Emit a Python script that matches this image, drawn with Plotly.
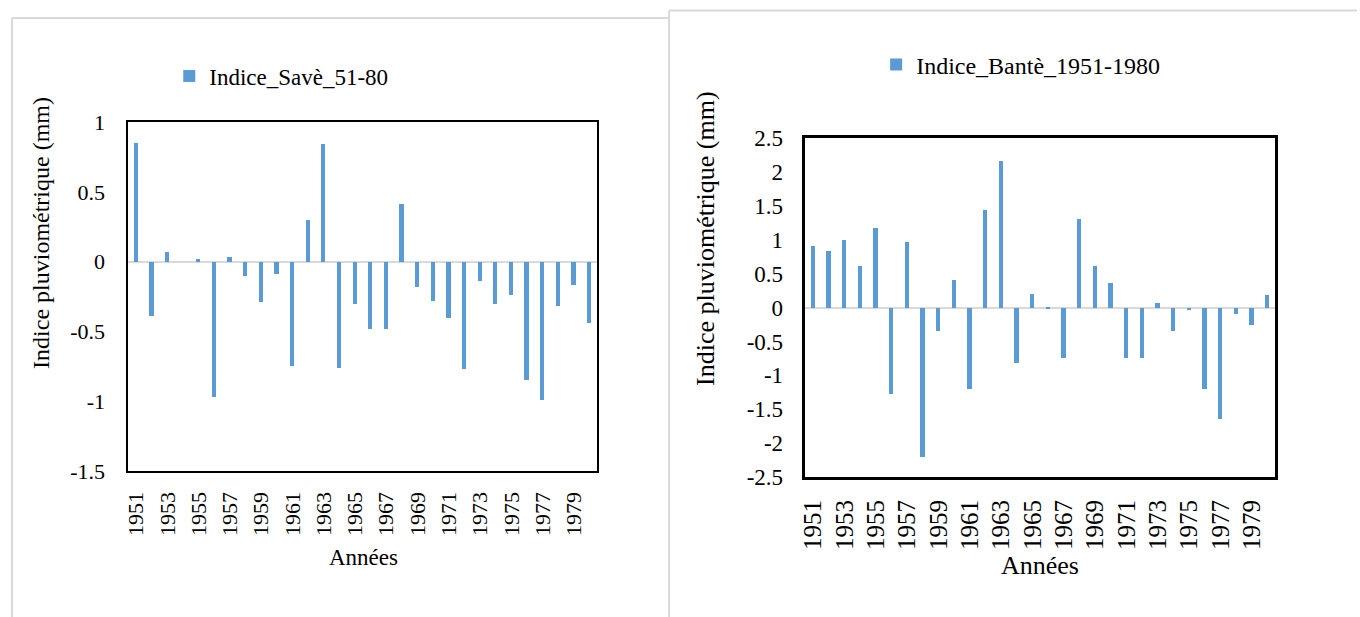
import plotly.graph_objects as go

# Years 1951-1980
years = list(range(1951, 1981))

# Rainfall index, Savè station (reference period 51-80)
indice_save = [0.85, -0.39, 0.07, 0.0, 0.02, -0.97, 0.03, -0.10, -0.29, -0.09,
               -0.75, 0.30, 0.84, -0.76, -0.30, -0.48, -0.48, 0.41, -0.18, -0.28,
               -0.40, -0.77, -0.14, -0.30, -0.24, -0.85, -0.99, -0.32, -0.17, -0.44]

# Rainfall index, Bantè station (1951-1980)
indice_bante = [0.91, 0.84, 1.00, 0.62, 1.18, -1.28, 0.96, -2.21, -0.35, 0.41,
                -1.20, 1.44, 2.16, -0.82, 0.20, -0.02, -0.75, 1.30, 0.62, 0.36,
                -0.75, -0.74, 0.07, -0.35, -0.04, -1.20, -1.65, -0.09, -0.26, 0.19]

year_ticks = list(range(1951, 1981, 2))
save_yticks = [1, 0.5, 0, -0.5, -1, -1.5]
save_ylabels = ["1", "0.5", "0", "-0.5", "-1", "-1.5"]
bante_yticks = [2.5, 2, 1.5, 1, 0.5, 0, -0.5, -1, -1.5, -2, -2.5]
bante_ylabels = ["2.5", "2", "1.5", "1", "0.5", "0", "-0.5", "-1", "-1.5", "-2", "-2.5"]

# Placement of the figure inside the page: horizontal offset, vertical offset
# and vertical scale between figure pixels and page pixels.
OFF_X, OFF_Y, SCALE_Y = 3, 12, 0.96
W, H = 1357, 630
FONT = "Liberation Serif, Times New Roman, serif"
BLUE = "#5B9BD5"
FRAME = "#D9D9D9"


def px(x):
    """Page x position (pixels) to paper coordinate."""
    return (x - OFF_X) / W


def py(y):
    """Page y position (pixels, from top) to paper coordinate."""
    return 1 - ((y - OFF_Y) / SCALE_Y) / H


def f(size):
    return dict(size=size, family=FONT, color="black")


fig = go.Figure()

fig.add_trace(go.Bar(
    x=years, y=indice_save, name="Indice_Savè_51-80",
    marker=dict(color=BLUE, line=dict(width=0)), width=0.27,
    xaxis="x", yaxis="y", legend="legend", showlegend=True,
))
fig.add_trace(go.Bar(
    x=years, y=indice_bante, name="Indice_Bantè_1951-1980",
    marker=dict(color=BLUE, line=dict(width=0)), width=0.27,
    xaxis="x2", yaxis="y2", legend="legend2", showlegend=True,
))

common_x = dict(
    range=[1950.5, 1980.5], tickmode="array", tickvals=year_ticks,
    ticktext=[str(v) for v in year_ticks], tickangle=-90,
    showgrid=False, zeroline=False, showline=True, mirror=True,
    linecolor="black", ticks="", fixedrange=True,
)
common_y = dict(
    showgrid=False, zeroline=True, zerolinecolor=FRAME, zerolinewidth=1.5,
    showline=True, mirror=True, linecolor="black", ticks="", fixedrange=True,
)

fig.update_layout(
    width=W, height=H,
    margin=dict(l=0, r=0, t=0, b=0),
    paper_bgcolor="white", plot_bgcolor="white",
    font=f(20),
    bargap=0,
    xaxis=dict(**common_x, domain=[px(126), px(597)], anchor="y", linewidth=2,
               tickfont=f(22), ticklabelstandoff=10),
    yaxis=dict(**common_y, domain=[py(471), py(122)], anchor="x", linewidth=2,
               range=[-1.5, 1], tickvals=save_yticks, ticktext=save_ylabels,
               tickfont=f(22), ticklabelstandoff=17),
    xaxis2=dict(**common_x, domain=[px(806), px(1278)], anchor="y2", linewidth=2.5,
                tickfont=f(25), ticklabelstandoff=10),
    yaxis2=dict(**common_y, domain=[py(477), py(138)], anchor="x2", linewidth=2.5,
                range=[-2.5, 2.5], tickvals=bante_yticks, ticktext=bante_ylabels,
                tickfont=f(23), ticklabelstandoff=15),
    legend=dict(x=px(167), y=py(76), xanchor="left", yanchor="middle",
                font=f(23), bgcolor="rgba(0,0,0,0)"),
    legend2=dict(x=px(877), y=py(65), xanchor="left", yanchor="middle",
                 font=f(24), bgcolor="rgba(0,0,0,0)"),
)

# Axis titles
titles = [
    ("Indice pluviométrique (mm)", 38, 233, 24, -90),
    ("Années", 362, 557, 23, 0),
    ("Indice pluviométrique (mm)", 705, 238, 26, -90),
    ("Années", 1042, 565, 26, 0),
]
for text, x, y, size, angle in titles:
    fig.add_annotation(text=text, textangle=angle, x=px(x), y=py(y),
                       xref="paper", yref="paper", xanchor="center",
                       yanchor="middle", showarrow=False, font=f(size))

# Chart frames around each panel
frame_lines = [
    (9, 18, 669, 18),
    (9, 18, 9, 660),
    (669, 10.5, 669, 660),
    (669, 10.5, 1380, 10.5),
]
for x0, y0, x1, y1 in frame_lines:
    fig.add_shape(type="line", xref="paper", yref="paper",
                  x0=px(x0), y0=py(y0), x1=px(x1), y1=py(y1),
                  line=dict(color=FRAME, width=2), layer="below")

fig.write_html("out.html")
